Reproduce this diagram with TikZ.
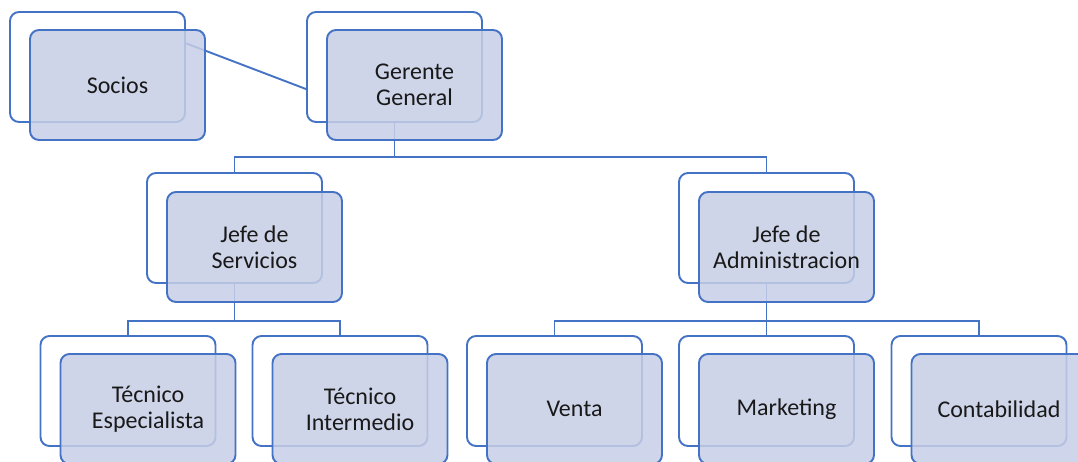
\documentclass[tikz,border=0pt]{standalone}
\usepackage{fontspec}
\setmainfont{Carlito}
\definecolor{obl}{RGB}{68,114,196}
\definecolor{ofill}{RGB}{199,206,230}
\begin{document}
\begin{tikzpicture}[x=1pt,y=-1pt,
  backbox/.style={draw=obl, line width=1.9pt, fill=white, rounded corners=9pt,
    minimum width=175pt, minimum height=110pt, inner sep=0pt},
  frontbox/.style={draw=obl, line width=1.9pt, fill=ofill, fill opacity=0.85,
    text opacity=1, rounded corners=9pt, minimum width=175pt, minimum height=110pt,
    inner sep=0pt, align=center, font=\fontsize{24}{26}\selectfont, text=black!90},
  conn/.style={draw=obl, line width=1.9pt}]
\useasboundingbox (0,0) rectangle (1078,461);
\clip (0,0) rectangle (1078,461);
% back boxes
\node[backbox] (socB) at (97.5,67) {};
\node[backbox] (gerB) at (394.5,67) {};
\node[backbox] (jsB) at (234.5,228) {};
\node[backbox] (jaB) at (766.5,228) {};
\node[backbox] (teB) at (128,391) {};
\node[backbox] (tiB) at (340,391) {};
\node[backbox] (veB) at (554.5,391) {};
\node[backbox] (maB) at (766.5,391) {};
\node[backbox] (coB) at (979,391) {};
% connectors
\coordinate (busA) at (0,157);
\coordinate (busB) at (0,321);
\draw[conn] (socB.15) -- (gerB.194);
\draw[conn] (gerB.south) -- (gerB.south |- busA);
\draw[conn] (jsB.north) |- (gerB.south |- busA) -| (jaB.north);
\draw[conn] (jsB.south) -- (jsB.south |- busB);
\draw[conn] (teB.north) |- (jsB.south |- busB) -| (tiB.north);
\draw[conn] (jaB.south) -- (maB.north);
\draw[conn] (veB.north) |- (jaB.south |- busB) -| (coB.north);
% front boxes
\node[frontbox] (socF) at (117.5,85) {Socios};
\node[frontbox] (gerF) at (414.5,85) {Gerente\\General};
\node[frontbox] (jsF) at (254.5,247) {Jefe de\\Servicios};
\node[frontbox] (jaF) at (786.5,247) {Jefe de\\Administracion};
\node[frontbox] (teF) at (148,409) {Técnico\\Especialista};
\node[frontbox] (tiF) at (360,409) {Técnico\\Intermedio};
\node[frontbox] (veF) at (574.5,409) {Venta};
\node[frontbox] (maF) at (786.5,409) {Marketing};
\node[frontbox] (coF) at (999,409) {Contabilidad};
\end{tikzpicture}
\end{document}
